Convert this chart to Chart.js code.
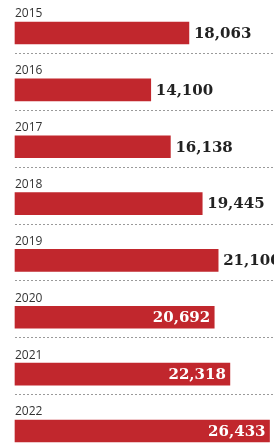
<!DOCTYPE html>
<html>
<head>
<meta charset="utf-8">
<script src="https://cdn.jsdelivr.net/npm/chart.js@4"></script>
<style>
  html, body { margin: 0; padding: 0; background: #fff; }
  canvas { display: block; }
</style>
</head>
<body>
<canvas id="yearChart" width="274" height="445"></canvas>
<script>
// Data
const years = ['2015', '2016', '2017', '2018', '2019', '2020', '2021', '2022'];
const totals = [18063, 14100, 16138, 19445, 21100, 20692, 22318, 26433];

// from this year on the number is written inside the bar
const insideFrom = '2020';

const barRed = '#c1272d';

// Year above each bar, number at the end, dotted rule between rows
const rowLabels = {
    id: 'rowLabels',
    afterDatasetsDraw(chart) {
        const ctx = chart.ctx;
        const meta = chart.getDatasetMeta(0);
        const area = chart.chartArea;

        ctx.save();
        meta.data.forEach((bar, i) => {
            const top = bar.y - bar.height / 2;

            // year
            ctx.font = '12px "Open Sans"';
            ctx.fillStyle = '#333';
            ctx.textAlign = 'left';
            ctx.textBaseline = 'bottom';
            ctx.fillText(years[i], area.left, top - 2);

            // value
            const text = totals[i].toLocaleString('en-US');
            ctx.font = 'bold 15px "DejaVu Serif"';
            ctx.textBaseline = 'middle';
            if (years.indexOf(years[i]) >= years.indexOf(insideFrom)) {
                ctx.fillStyle = '#fff';
                ctx.textAlign = 'right';
                ctx.fillText(text, bar.x - 4, bar.y + 1);
            } else {
                ctx.fillStyle = '#222';
                ctx.textAlign = 'left';
                ctx.fillText(text, bar.x + 5, bar.y + 1);
            }

            // dotted separator
            if (i < meta.data.length - 1) {
                ctx.strokeStyle = '#9a9a9a';
                ctx.lineWidth = 1;
                ctx.setLineDash([2, 2]);
                ctx.beginPath();
                ctx.moveTo(area.left, Math.round(bar.y + 20) + 0.5);
                ctx.lineTo(chart.width, Math.round(bar.y + 20) + 0.5);
                ctx.stroke();
            }
        });
        ctx.restore();
    }
};

const ctx = document.getElementById('yearChart').getContext('2d');
const yearChart = new Chart(ctx, {
    type: 'bar',
    data: {
        labels: years,
        datasets: [{
            data: totals,
            backgroundColor: barRed,
            borderWidth: 0,
            barThickness: 22,
            clip: false
        }]
    },
    options: {
        indexAxis: 'y',
        responsive: false,
        animation: false,
        devicePixelRatio: 1,
        layout: {
            padding: { left: 15, right: 0, top: 33, bottom: 14 }
        },
        plugins: {
            legend: { display: false },
            tooltip: { enabled: false }
        },
        scales: {
            x: {
                display: false,
                min: 0,
                max: 26900
            },
            y: {
                display: false,
                offset: false
            }
        }
    },
    plugins: [rowLabels]
});
</script>
</body>
</html>
